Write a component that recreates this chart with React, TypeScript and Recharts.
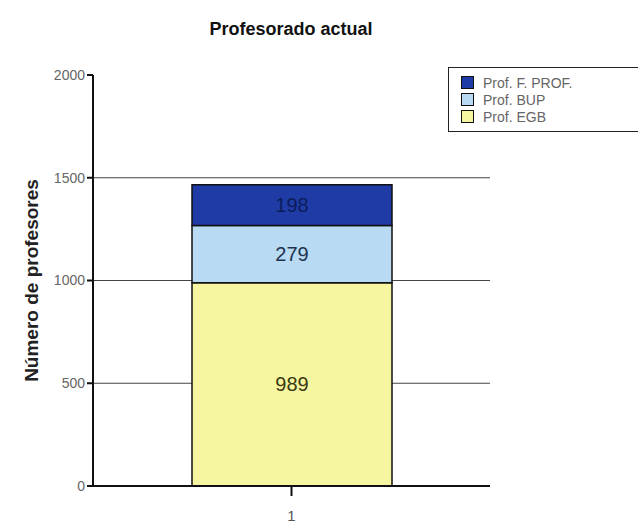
import { BarChart, Bar, XAxis, YAxis, CartesianGrid, LabelList } from 'recharts'

const categories = ['1']
const egb = [989]
const bup = [279]
const fprof = [198]
const yTicks = [0, 500, 1000, 1500, 2000]
const gridValues = [500, 1000, 1500]

const series = [
    { key: 'fprof', name: 'Prof. F. PROF.', color: '#1f3ca6', labelColor: '#0d1c5c' },
    { key: 'bup', name: 'Prof. BUP', color: '#b9daf3', labelColor: '#1d3350' },
    { key: 'egb', name: 'Prof. EGB', color: '#f6f5a1', labelColor: '#3b3a10' },
]

const data = categories.map((c, i) => ({ name: c, egb: egb[i], bup: bup[i], fprof: fprof[i] }))

const cond = { fontFamily: '"Liberation Sans Narrow", "Liberation Sans", Arial, sans-serif' }

const LegendBox = () => (
    <div style={{ position: 'absolute', left: 448, top: 67, border: '1.5px solid #222', background: '#fff', padding: '6px 10px 6px 12px', width: 200, boxSizing: 'border-box' }}>
        {series.map(s => (
            <div key={s.key} style={{ display: 'flex', alignItems: 'center', height: 17 }}>
                <span style={{ width: 11, height: 11, background: s.color, border: '1.5px solid #111', marginRight: 9 }} />
                <span style={{ ...cond, fontSize: 14, color: '#666' }}>{s.name}</span>
            </div>
        ))}
    </div>
)

const YLabel = (props: any) => {
    const vb = props.viewBox
    const cx = 31
    const cy = vb.y + vb.height / 2
    return (
        <text x={cx} y={cy} transform={`rotate(-90 ${cx} ${cy})`} textAnchor="middle" dominantBaseline="central"
            style={{ ...cond, fontSize: 19, fontWeight: 'bold', fill: '#222' }}>
            Número de profesores
        </text>
    )
}

export default function App() {
    return (
        <div style={{ position: 'absolute', left: 0, top: 0, width: 638, height: 532, background: '#fff', overflow: 'hidden' }}>
            <div style={{ position: 'absolute', left: 0, width: 582, top: 19, textAlign: 'center', ...cond, fontWeight: 'bold', fontSize: 18, color: '#111' }}>
                Profesorado actual
            </div>
            <BarChart width={638} height={532} data={data} margin={{ top: 75, right: 148, bottom: 10, left: 20 }} barSize={200}>
                <CartesianGrid vertical={false} horizontalValues={gridValues} stroke="#444" strokeWidth={1.2} />
                <XAxis dataKey="name" height={36} axisLine={{ stroke: '#111', strokeWidth: 2 }} tickLine={{ stroke: '#111', strokeWidth: 2 }}
                    tickSize={10} tick={{ ...cond, fontSize: 15, fill: '#555', dy: 12 }} />
                <YAxis width={73} domain={[0, 2000]} ticks={yTicks} interval={0} axisLine={{ stroke: '#111', strokeWidth: 2 }}
                    tickLine={{ stroke: '#111', strokeWidth: 2 }} tickSize={6} tick={{ ...cond, fontSize: 14, fill: '#666' }}
                    label={<YLabel />} />
                {[...series].reverse().map(s => (
                    <Bar key={s.key} dataKey={s.key} name={s.name} stackId="a" fill={s.color} stroke="#111" strokeWidth={1.5} isAnimationActive={false}>
                        <LabelList dataKey={s.key} position="center" style={{ ...cond, fontSize: 20, fill: s.labelColor }} />
                    </Bar>
                ))}
            </BarChart>
            <LegendBox />
        </div>
    )
}
